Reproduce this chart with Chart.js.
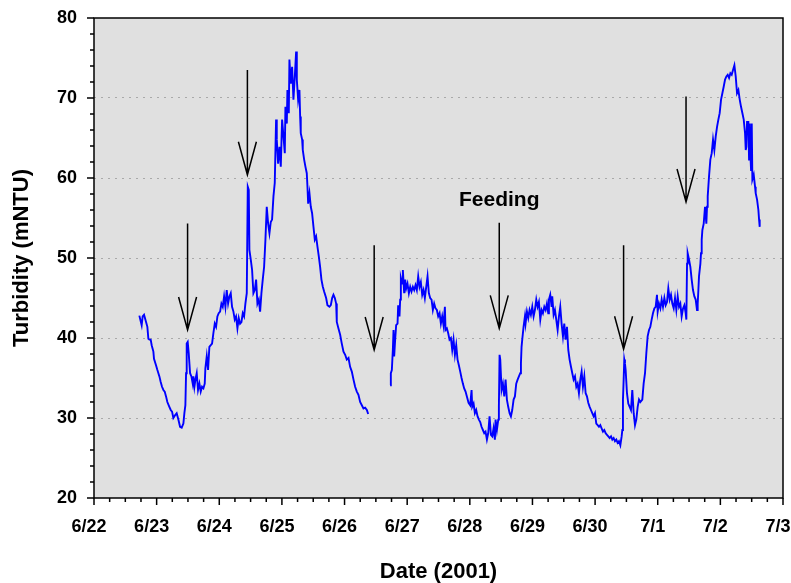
<!DOCTYPE html>
<html>
<head>
<meta charset="utf-8">
<script src="https://cdn.jsdelivr.net/npm/chart.js@4.4.0/dist/chart.umd.min.js"></script>
<style>
html, body { margin: 0; background: #fff; }
#wrap { width: 791px; height: 583px; }
</style>
</head>
<body>
<div id="wrap"><canvas id="chart"></canvas></div>
<script>
// x = days since 6/22 00:00
const xTickLabels = ["6/22", "6/23", "6/24", "6/25", "6/26", "6/27", "6/28", "6/29", "6/30", "7/1", "7/2", "7/3"];

// first record (ends before the gap on 6/26)
const seg1Day = [0.724, 0.761, 0.777, 0.799, 0.831, 0.852, 0.868, 0.884, 0.905, 0.921, 0.948, 0.958, 0.990, 1.012, 1.044, 1.065, 1.086, 1.108, 1.129, 1.150, 1.171, 1.203, 1.225, 1.246, 1.267, 1.299, 1.320, 1.347, 1.374, 1.400, 1.427, 1.443, 1.459, 1.470, 1.480, 1.496, 1.512, 1.534, 1.555, 1.576, 1.587, 1.603, 1.619, 1.640, 1.661, 1.683, 1.704, 1.725, 1.747, 1.768, 1.778, 1.800, 1.821, 1.842, 1.864, 1.885, 1.906, 1.928, 1.949, 1.970, 1.991, 2.013, 2.034, 2.055, 2.077, 2.098, 2.119, 2.141, 2.162, 2.183, 2.204, 2.226, 2.247, 2.268, 2.290, 2.311, 2.332, 2.354, 2.375, 2.396, 2.417, 2.439, 2.455, 2.471, 2.481, 2.503, 2.524, 2.545, 2.567, 2.588, 2.609, 2.631, 2.652, 2.673, 2.694, 2.716, 2.737, 2.758, 2.780, 2.801, 2.822, 2.843, 2.865, 2.886, 2.907, 2.918, 2.939, 2.961, 2.982, 3.003, 3.025, 3.046, 3.056, 3.078, 3.088, 3.110, 3.120, 3.142, 3.163, 3.184, 3.206, 3.227, 3.238, 3.259, 3.280, 3.291, 3.301, 3.323, 3.333, 3.355, 3.376, 3.397, 3.408, 3.419, 3.440, 3.461, 3.482, 3.504, 3.525, 3.546, 3.568, 3.589, 3.610, 3.631, 3.653, 3.674, 3.706, 3.727, 3.759, 3.781, 3.802, 3.823, 3.845, 3.866, 3.876, 3.903, 3.930, 3.956, 3.983, 4.010, 4.036, 4.063, 4.089, 4.116, 4.143, 4.169, 4.196, 4.222, 4.249, 4.276, 4.302, 4.329, 4.356, 4.377];
const seg1Turb = [42.8, 41.6, 42.7, 42.9, 42.0, 41.4, 39.9, 39.8, 39.8, 39.1, 38.3, 37.4, 36.6, 36.0, 35.2, 34.5, 33.9, 33.5, 33.3, 32.7, 32.0, 31.4, 31.0, 30.8, 30.0, 30.4, 30.6, 29.8, 28.9, 28.8, 29.3, 30.6, 31.6, 35.6, 39.3, 39.5, 38.1, 35.6, 35.2, 34.3, 35.2, 33.9, 34.8, 35.6, 33.5, 34.3, 33.3, 33.9, 33.7, 34.3, 36.2, 37.7, 36.0, 38.9, 39.1, 39.3, 40.6, 41.8, 41.4, 42.7, 43.1, 43.3, 44.3, 43.9, 45.2, 43.9, 46.0, 44.3, 45.2, 45.6, 43.9, 43.3, 42.3, 42.7, 41.2, 42.5, 41.8, 42.0, 43.1, 42.7, 44.3, 45.6, 58.9, 58.5, 51.0, 49.8, 48.5, 45.6, 46.0, 47.3, 44.3, 44.8, 43.3, 45.6, 47.3, 48.9, 52.3, 56.4, 54.3, 53.1, 54.5, 54.8, 57.7, 59.4, 67.3, 64.8, 61.8, 63.9, 61.4, 67.3, 65.2, 63.1, 68.9, 66.8, 71.0, 68.1, 74.8, 71.8, 73.9, 69.8, 72.7, 75.8, 72.3, 69.8, 71.0, 67.7, 65.6, 64.8, 63.5, 62.3, 61.4, 60.6, 58.9, 56.8, 58.1, 56.4, 55.6, 53.9, 52.3, 52.7, 51.4, 50.2, 48.9, 47.3, 46.4, 45.8, 45.0, 44.1, 43.9, 44.1, 45.0, 45.4, 45.0, 44.3, 42.0, 41.2, 40.4, 39.3, 38.3, 37.9, 37.3, 37.5, 36.4, 35.8, 34.8, 33.9, 33.3, 32.9, 32.0, 31.6, 31.2, 31.3, 31.0, 30.5];

// second record (after the gap)
const seg2Day = [4.728, 4.739, 4.755, 4.771, 4.782, 4.792, 4.808, 4.824, 4.846, 4.856, 4.877, 4.888, 4.899, 4.920, 4.931, 4.952, 4.968, 4.984, 5.005, 5.027, 5.048, 5.069, 5.091, 5.112, 5.133, 5.154, 5.176, 5.197, 5.218, 5.240, 5.261, 5.282, 5.304, 5.325, 5.346, 5.367, 5.389, 5.410, 5.431, 5.453, 5.474, 5.495, 5.517, 5.538, 5.559, 5.580, 5.602, 5.612, 5.634, 5.655, 5.676, 5.698, 5.719, 5.740, 5.762, 5.783, 5.804, 5.825, 5.847, 5.868, 5.889, 5.910, 5.932, 5.953, 5.980,
  6.006, 6.028, 6.038, 6.060, 6.081, 6.102, 6.124, 6.145, 6.166, 6.187, 6.209, 6.230, 6.251, 6.273, 6.294, 6.315, 6.337, 6.358, 6.379, 6.400, 6.411, 6.432, 6.454, 6.464, 6.475, 6.486, 6.507, 6.528, 6.550, 6.571, 6.592, 6.613, 6.635, 6.656, 6.677, 6.699, 6.720, 6.741, 6.763, 6.784, 6.805, 6.816, 6.826, 6.837, 6.858, 6.880, 6.890, 6.912, 6.933, 6.954, 6.975, 6.997, 7.018, 7.039, 7.061, 7.082, 7.103, 7.125, 7.146, 7.167, 7.189, 7.210, 7.231, 7.252, 7.263, 7.284, 7.306, 7.316, 7.338, 7.359, 7.380, 7.402, 7.423, 7.444, 7.465, 7.487, 7.508, 7.529, 7.551, 7.572, 7.593, 7.615, 7.636, 7.657, 7.679, 7.700, 7.721, 7.742, 7.764, 7.785, 7.806, 7.828, 7.849, 7.870, 7.891, 7.913, 7.934, 7.955, 7.977, 7.998, 8.019, 8.041, 8.062, 8.083, 8.104, 8.126, 8.147, 8.168, 8.190, 8.211, 8.232, 8.254, 8.275, 8.296, 8.317, 8.339, 8.360, 8.381, 8.403, 8.424, 8.435, 8.445, 8.456, 8.466, 8.477,
  8.488, 8.509, 8.530, 8.552, 8.573, 8.594, 8.616, 8.637, 8.658, 8.680, 8.701, 8.722, 8.754, 8.775, 8.797, 8.818, 8.839, 8.861, 8.882, 8.903, 8.924, 8.946, 8.967, 8.988, 8.999, 9.020, 9.042, 9.063, 9.084, 9.106, 9.127, 9.148, 9.169, 9.191, 9.212, 9.233, 9.255, 9.276, 9.297, 9.319, 9.340, 9.361, 9.382, 9.404, 9.425, 9.446, 9.457, 9.468, 9.478, 9.500, 9.521, 9.542, 9.563, 9.585, 9.606, 9.627, 9.638, 9.649, 9.659, 9.681, 9.691, 9.702, 9.713, 9.734, 9.755, 9.776, 9.787, 9.798, 9.819, 9.840, 9.862, 9.883, 9.904, 9.926, 9.947, 9.968, 9.989, 10.011, 10.032, 10.053, 10.075, 10.096, 10.117, 10.139, 10.160, 10.181, 10.202, 10.224, 10.245, 10.266, 10.288, 10.309, 10.330, 10.352, 10.373, 10.394, 10.405, 10.415, 10.426, 10.447, 10.458, 10.469, 10.479, 10.490, 10.501, 10.511, 10.533, 10.554, 10.564, 10.586, 10.607, 10.618, 10.628];
const seg2Turb = [34.1, 35.6, 36.0, 38.5, 41.0, 37.7, 39.8, 41.6, 41.8, 44.1, 42.7, 44.8, 47.5, 46.8, 48.5, 45.6, 47.3, 46.2, 46.8, 45.6, 46.4, 45.8, 46.4, 46.0, 46.6, 46.0, 47.7, 46.4, 47.0, 45.4, 46.0, 45.0, 46.4, 47.7, 45.6, 45.0, 44.8, 43.5, 44.3, 43.7, 43.5, 42.7, 43.1, 41.8, 42.7, 41.6, 43.9, 41.0, 41.2, 40.6, 39.8, 40.0, 38.5, 39.8, 37.9, 39.1, 37.3, 36.6, 35.8, 35.0, 34.3, 33.7, 33.3, 32.7, 31.9,
  31.6, 33.5, 31.4, 31.8, 30.6, 31.0, 30.2, 29.8, 29.5, 28.9, 28.5, 28.1, 28.3, 27.3, 28.1, 30.2, 27.9, 27.7, 28.7, 27.3, 29.8, 28.5, 29.8, 31.4, 37.9, 37.3, 33.5, 34.3, 32.7, 34.8, 32.3, 31.4, 30.6, 30.2, 31.0, 32.3, 32.7, 34.3, 34.8, 35.2, 35.6, 36.8, 38.9, 39.8, 41.4, 42.7, 41.8, 43.3, 42.5, 43.5, 42.9, 43.9, 42.7, 43.5, 44.8, 43.9, 44.5, 42.3, 43.5, 43.1, 43.9, 43.5, 44.3, 43.1, 44.8, 45.4, 43.9, 45.2, 42.9, 43.5, 42.3, 41.0, 42.7, 43.9, 41.8, 40.2, 41.8, 39.8, 41.4, 38.5, 37.3, 36.4, 35.6, 34.8, 35.2, 33.9, 34.3, 33.1, 34.8, 35.8, 33.9, 35.2, 33.1, 32.7, 31.9, 31.4, 31.0, 30.6, 30.2, 30.6, 29.3, 29.1, 28.9, 29.1, 28.7, 28.3, 28.5, 28.1, 27.9, 27.7, 27.5, 27.7, 27.3, 27.5, 27.1, 27.3, 26.9, 27.1, 26.6, 27.7, 28.5, 32.3, 34.8, 37.3, 36.8,
  36.0, 33.1, 31.8, 31.4, 31.0, 33.5, 30.6, 29.1, 29.8, 31.4, 32.3, 32.0, 32.3, 34.3, 35.6, 38.1, 40.2, 41.0, 41.4, 42.3, 43.1, 43.7, 43.9, 45.4, 43.3, 44.3, 43.7, 44.8, 43.9, 45.0, 44.1, 44.5, 46.2, 44.8, 45.4, 44.3, 43.7, 45.0, 43.5, 45.2, 43.9, 44.3, 42.7, 43.7, 44.1, 43.1, 42.3, 49.3, 50.6, 49.8, 48.9, 47.3, 46.0, 45.2, 44.8, 43.5, 44.3, 46.0, 47.7, 49.3, 50.6, 52.3, 53.5, 54.3, 56.4, 54.3, 56.4, 57.7, 60.2, 62.3, 63.1, 64.8, 63.5, 65.2, 66.4, 67.3, 68.1, 69.8, 70.6, 71.4, 72.3, 72.7, 72.9, 72.5, 73.1, 72.9, 73.5, 74.1, 72.7, 70.6, 71.0, 69.8, 68.9, 68.1, 67.3, 65.6, 63.5, 63.9, 67.0, 67.0, 62.3, 66.8, 63.1, 61.0, 66.8, 59.8, 60.4, 58.9, 58.1, 57.3, 56.0, 54.8, 53.9];

// feeding arrows: day, shaft top and tip (mNTU)
const arrowDay = [1.494, 2.449, 4.473, 6.470, 8.455, 9.452];
const arrowTop = [54.3, 73.5, 51.6, 54.4, 51.6, 70.2];
const arrowTip = [41.0, 60.4, 38.5, 41.2, 38.6, 57.0];
const feedingLabel = "Feeding";
const feedingAt = [6.470, 57.2];

const points = [];
seg1Day.forEach((d, i) => points.push({x: d, y: seg1Turb[i]}));
points.push({x: (seg1Day[seg1Day.length - 1] + seg2Day[0]) / 2, y: null});
seg2Day.forEach((d, i) => points.push({x: d, y: seg2Turb[i]}));

const tickFont = {family: "Liberation Sans", weight: "bold", size: 18};
const titleFont = {family: "Liberation Sans", weight: "bold", size: 22, lineHeight: 1};

const plotDecor = {
  id: "plotDecor",
  beforeDraw(chart) {
    const {ctx, chartArea: a} = chart;
    ctx.save();
    ctx.fillStyle = "#e0e0e0";
    ctx.fillRect(a.left, a.top, a.right - a.left, a.bottom - a.top);
    ctx.restore();
  },
  afterDatasetsDraw(chart) {
    const {ctx, scales: {x, y}} = chart;
    ctx.save();
    ctx.strokeStyle = "#000";
    ctx.lineWidth = 1.5;
    arrowDay.forEach((d, i) => {
      const px = x.getPixelForValue(d);
      const top = y.getPixelForValue(arrowTop[i]);
      const tip = y.getPixelForValue(arrowTip[i]);
      ctx.beginPath();
      ctx.moveTo(px, top);
      ctx.lineTo(px, tip);
      ctx.moveTo(px - 9, tip - 33);
      ctx.lineTo(px, tip);
      ctx.lineTo(px + 9, tip - 33);
      ctx.stroke();
    });
    ctx.fillStyle = "#000";
    ctx.font = "bold 21px 'Liberation Sans'";
    ctx.textAlign = "center";
    ctx.textBaseline = "middle";
    ctx.fillText(feedingLabel, x.getPixelForValue(feedingAt[0]), y.getPixelForValue(feedingAt[1]));
    ctx.restore();
  },
  afterDraw(chart) {
    const {ctx, chartArea: a, scales: {x, y}} = chart;
    ctx.save();
    ctx.strokeStyle = "#000";
    ctx.lineWidth = 1.5;
    ctx.strokeRect(a.left, a.top, a.right - a.left, a.bottom - a.top);
    ctx.beginPath();
    x.ticks.forEach(t => {
      const px = x.getPixelForValue(t.value);
      const len = Number.isInteger(t.value) ? 7 : 4;
      ctx.moveTo(px, a.bottom);
      ctx.lineTo(px, a.bottom + len);
    });
    y.ticks.forEach(t => {
      const py = y.getPixelForValue(t.value);
      const len = t.value % 10 === 0 ? 7 : 4;
      ctx.moveTo(a.left - len, py);
      ctx.lineTo(a.left, py);
    });
    ctx.stroke();
    ctx.restore();
  }
};

new Chart(document.getElementById("chart"), {
  type: "line",
  data: {
    datasets: [{
      data: points,
      borderColor: "#0000ff",
      borderWidth: 1.9,
      pointRadius: 0,
      tension: 0,
      spanGaps: false
    }]
  },
  options: {
    responsive: true,
    maintainAspectRatio: false,
    animation: false,
    layout: {padding: {top: 18, right: 8, bottom: 0, left: 0}},
    plugins: {legend: {display: false}, tooltip: {enabled: false}},
    scales: {
      x: {
        type: "linear",
        min: 0,
        max: 11,
        grid: {display: false, drawTicks: false},
        border: {display: false},
        ticks: {
          stepSize: 0.25,
          autoSkip: false,
          maxRotation: 0,
          padding: 18,
          labelOffset: -5,
          color: "#000",
          font: tickFont,
          callback: v => Number.isInteger(v) ? xTickLabels[v] : ""
        },
        title: {display: true, text: "Date (2001)", color: "#000", font: titleFont, padding: {top: 0, bottom: 0}},
        afterFit(scale) {
          scale.height = 85;
          scale.paddingLeft = 0;
          scale.paddingRight = 0;
        }
      },
      y: {
        min: 20,
        max: 80,
        grid: {
          drawTicks: false,
          lineWidth: 1,
          color: c => (c.tick && c.tick.value % 10 === 0 && c.tick.value > 20 && c.tick.value < 80) ? "#a9a9a9" : "rgba(0,0,0,0)"
        },
        border: {display: false, dash: [2, 5]},
        ticks: {
          stepSize: 2,
          autoSkip: false,
          padding: 17,
          color: "#000",
          font: tickFont,
          callback: v => v % 10 === 0 ? String(v) : ""
        },
        title: {display: true, text: "Turbidity (mNTU)", color: "#000", font: titleFont, padding: {top: 11, bottom: 0}},
        afterFit(scale) {
          scale.width = 94;
          scale.paddingTop = 0;
          scale.paddingBottom = 0;
        }
      }
    }
  },
  plugins: [plotDecor]
});
</script>
</body>
</html>
